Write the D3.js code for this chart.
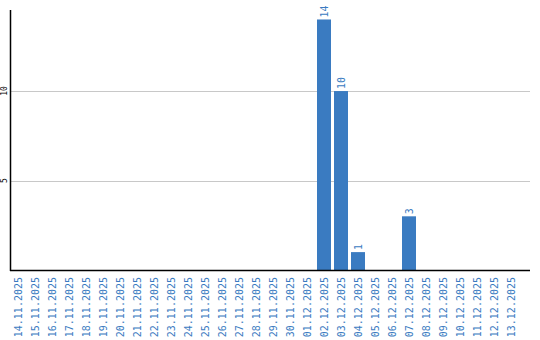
<html>
<head>
<style>
  body { margin: 0; background: #fff; }
  text { font-family: "DejaVu Sans Mono", monospace; }
</style>
</head>
<body>
<svg id="chart"></svg>
<script src="https://cdn.jsdelivr.net/npm/d3@7"></script>
<script>
let width = 540, height = 340

let dates = ["14.11.2025","15.11.2025","16.11.2025","17.11.2025","18.11.2025","19.11.2025",
  "20.11.2025","21.11.2025","22.11.2025","23.11.2025","24.11.2025","25.11.2025","26.11.2025",
  "27.11.2025","28.11.2025","29.11.2025","30.11.2025","01.12.2025","02.12.2025","03.12.2025",
  "04.12.2025","05.12.2025","06.12.2025","07.12.2025","08.12.2025","09.12.2025","10.12.2025",
  "11.12.2025","12.12.2025","13.12.2025"]
let counts = [0,0,0,0,0,0,0,0,0,0,0,0,0,0,0,0,0,0,14,10,1,0,0,3,0,0,0,0,0,0]
let yTicks = [5, 10]

let plotLeft = 11, plotRight = 530, plotTop = 10, plotBottom = 270
let blue = "#3a7bc1"

let svg = d3.select("#chart").attr("width", width).attr("height", height)

let x = d3.scaleBand().domain(dates).range([plotLeft, plotLeft + 17 * dates.length]).paddingInner(0).paddingOuter(0)
let y = d3.scaleLinear().domain([0, 14.53]).range([plotBottom, plotTop])
let barW = 14

// gridlines
svg.append("g").selectAll("line").data(yTicks).enter().append("line")
  .attr("x1", plotLeft).attr("x2", plotRight)
  .attr("y1", d => Math.round(y(d)) + 0.5).attr("y2", d => Math.round(y(d)) + 0.5)
  .attr("stroke", "#c8c8c8")

// y tick labels (rotated)
svg.append("g").selectAll("text").data(yTicks).enter().append("text")
  .attr("transform", d => `translate(7,${y(d)}) rotate(-90)`)
  .attr("text-anchor", "middle")
  .attr("font-size", 8)
  .attr("fill", "#000")
  .text(d => d)

// bars
svg.append("g").selectAll("rect").data(counts).enter().append("rect")
  .attr("x", (d, i) => x(dates[i]))
  .attr("y", d => y(d))
  .attr("width", barW)
  .attr("height", d => plotBottom - y(d))
  .attr("fill", blue)

// value labels
svg.append("g").selectAll("text").data(counts.map((v, i) => ({v, i})).filter(d => d.v > 0)).enter().append("text")
  .attr("transform", d => `translate(${x(dates[d.i]) + barW / 2 + 4},${y(d.v) - 2}) rotate(-90)`)
  .attr("font-size", 10)
  .attr("fill", blue)
  .text(d => d.v)

// axes lines
svg.append("line").attr("x1", plotLeft - 0.5).attr("x2", plotLeft - 0.5).attr("y1", plotTop).attr("y2", plotBottom + 1)
  .attr("stroke", "#000").attr("stroke-width", 1.5)
svg.append("line").attr("x1", plotLeft - 1).attr("x2", plotRight).attr("y1", plotBottom + 0.5).attr("y2", plotBottom + 0.5)
  .attr("stroke", "#000").attr("stroke-width", 1.5)

// x labels
svg.append("g").selectAll("text").data(dates).enter().append("text")
  .attr("transform", d => `translate(${x(d) + barW / 2 + 3.5},277) rotate(-90)`)
  .attr("text-anchor", "end")
  .attr("font-size", 10)
  .attr("fill", blue)
  .text(d => d)
</script>
</body>
</html>
